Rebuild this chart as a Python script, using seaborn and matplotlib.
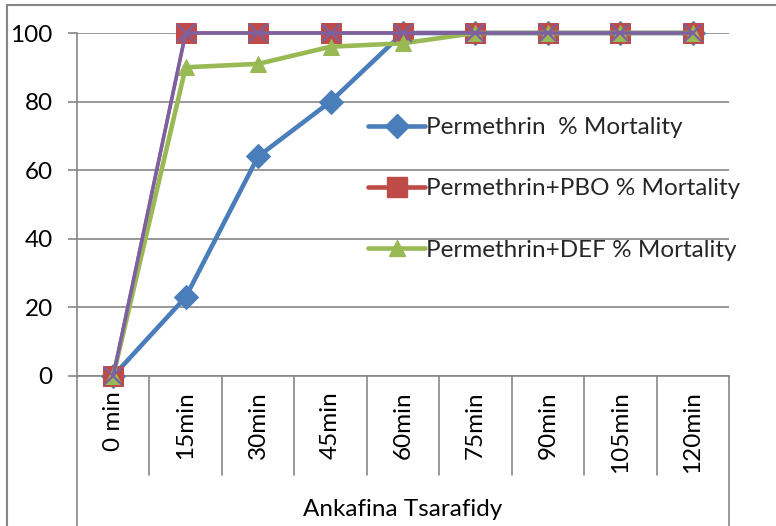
import numpy as np
import pandas as pd
import seaborn as sns
import matplotlib.pyplot as plt
from matplotlib.lines import Line2D
from matplotlib.transforms import blended_transform_factory

# Data
times = ["0 min", "15min", "30min", "45min", "60min", "75min", "90min", "105min", "120min"]
permethrin = [0, 23, 64, 80, 100, 100, 100, 100, 100]
permethrin_pbo = [0, 100, 100, 100, 100, 100, 100, 100, 100]
permethrin_def = [0, 90, 91, 96, 97, 100, 100, 100, 100]
hidden_series = [0, 100, 100, 100, 100, 100, 100, 100, 100]
labels = ["Permethrin  % Mortality", "Permethrin+PBO % Mortality", "Permethrin+DEF % Mortality"]
group_label = "Ankafina Tsarafidy"

sns.set_theme(style="white")
plt.rcParams['font.family'] = ['Lato', 'DejaVu Sans']
FS = 17.5

W, H = 776, 526
fig = plt.figure(figsize=(W / 100, H / 100), dpi=100)
x0, x1, y0, y1 = 77, 729, 33, 376
ax = fig.add_axes([x0 / W, 1 - y1 / H, (x1 - x0) / W, (y1 - y0) / H])

grid_col = "#868686"
df = pd.DataFrame({"pos": np.arange(len(times)),
                   "p": permethrin, "pbo": permethrin_pbo,
                   "def": permethrin_def, "hid": hidden_series})

blue, red, green, purple = "#4A7EBB", "#BE4B48", "#98B954", "#7D60A0"
sns.lineplot(data=df, x="pos", y="p", ax=ax, color=blue, lw=3.3, marker="D",
             markersize=12.5, markeredgecolor=blue, clip_on=False, zorder=5)
sns.lineplot(data=df, x="pos", y="pbo", ax=ax, color=red, lw=2.3, marker="s",
             markersize=14, markeredgecolor=red, clip_on=False, zorder=6)
sns.lineplot(data=df, x="pos", y="def", ax=ax, color=green, lw=3.3, marker="^",
             markersize=11, markeredgecolor=green, clip_on=False, zorder=7)
sns.lineplot(data=df, x="pos", y="hid", ax=ax, color=purple, lw=2.6, marker="x",
             markersize=13.5, markeredgewidth=1.6, markeredgecolor=purple, clip_on=False, zorder=8)

ax.set_xlim(-0.5, len(times) - 0.5)
ax.set_ylim(0, 100)
ax.set_yticks(range(0, 101, 20))
ax.set_xticks([])
ax.set_xlabel("")
ax.set_ylabel("")
ax.yaxis.grid(True, color=grid_col, lw=1.2)
ax.set_axisbelow(True)
for s in ["top", "right"]:
    ax.spines[s].set_visible(False)
ax.spines["bottom"].set_visible(False)
ax.spines["left"].set_color(grid_col)
ax.spines["left"].set_linewidth(1.2)
ax.tick_params(axis="y", length=6.5, width=1.2, color=grid_col, pad=11,
               labelsize=FS, labelcolor="black", left=True)

# category axis box below the plot
trans = blended_transform_factory(ax.transData, ax.transAxes)
ph = y1 - y0
sep_bottom = -(475 - y1) / ph
box_bottom = -(H - y1) / ph
ax.plot([-0.5, len(times) - 0.5], [0, 0], transform=trans, color=grid_col, lw=1.2, clip_on=False, zorder=1)
for i in range(1, len(times)):
    ax.plot([i - 0.5, i - 0.5], [0, sep_bottom], transform=trans, color=grid_col, lw=1.2, clip_on=False)
for xb in [-0.5, len(times) - 0.5]:
    ax.plot([xb, xb], [0, box_bottom], transform=trans, color=grid_col, lw=1.2, clip_on=False)
for i, t in enumerate(times):
    ax.text(i, -(391 - y1) / ph, t, transform=trans, rotation=90, ha="center", va="top",
            fontsize=FS, color="black")
ax.text((len(times) - 1) / 2, -(510 - y1) / ph, group_label, transform=trans,
        ha="center", va="center", fontsize=FS, color="black")

# legend without the hidden series
handles = [Line2D([], [], color=blue, lw=3.3, marker="D", markersize=12.5),
           Line2D([], [], color=red, lw=3.3, marker="s", markersize=14),
           Line2D([], [], color=green, lw=3.3, marker="^", markersize=11)]
fig.legend(handles, labels, loc="upper left", bbox_to_anchor=(368 / W, 1 - 117 / H),
           frameon=False, fontsize=FS, handlelength=2.35, handletextpad=0.05,
           labelspacing=1.66, borderaxespad=0, borderpad=0)

# outer chart border (left and top)
fig.add_artist(Line2D([7 / W, 7 / W], [0, 1 - 5 / H], color=grid_col, lw=1.5))
fig.add_artist(Line2D([7 / W, 1], [1 - 5 / H, 1 - 5 / H], color=grid_col, lw=1.5))

fig.savefig("out.png", dpi=100)
